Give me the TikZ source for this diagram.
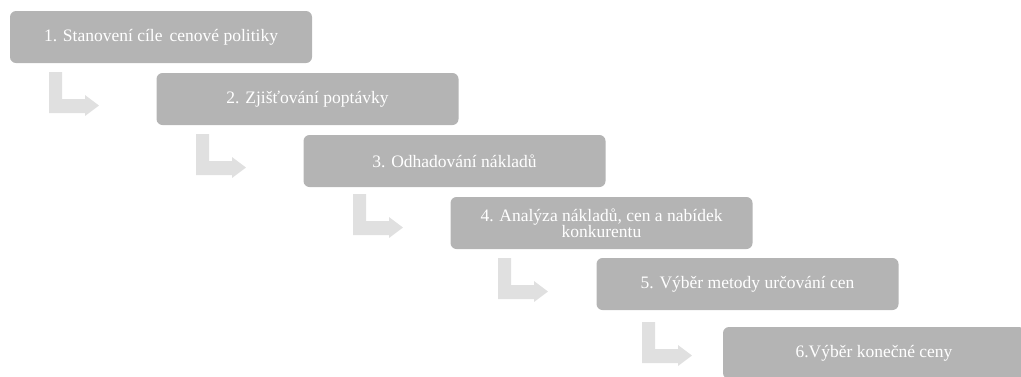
\documentclass[tikz,border=0pt]{standalone}
\usepackage{fontspec}
\setmainfont{Liberation Serif}
\definecolor{boxgray}{RGB}{180,180,180}
\definecolor{arrowgray}{RGB}{224,224,224}
\tikzset{
	stepbox/.style={fill=boxgray, rounded corners=6pt, minimum width=302pt, minimum height=52pt, inner sep=2pt, text=white, align=center},
	bentarrow/.style={fill=arrowgray, draw=none}
}
\begin{document}
\begin{tikzpicture}[x=1pt, y=-1pt, line join=round, font=\fontsize{17.5}{17.5}\selectfont]
			\useasboundingbox (0,0) rectangle (1021,376);
			\clip (0,0) rectangle (1021,376);
			% the steps
			\node[stepbox] (b1) at (161,37) {1. Stanovení cíle\hspace{0.4em}cenové politiky};
			\node[stepbox] (b2) at (307.5,99) {2. Zjišťování poptávky};
			\node[stepbox] (b3) at (454.5,161) {3. Odhadování nákladů};
			\node[stepbox] (b4) at (601.5,223) {4. Analýza nákladů, cen a nabídek\\[-1pt] konkurentu};
			\node[stepbox] (b5) at (747.5,284) {5. Výběr metody určování cen};
			\node[stepbox] (b6) at (874,353) {6.Výběr konečné ceny};
			% bent arrows between the steps
			\foreach \x/\y in {49/72, 196/134, 353/194, 498/258, 642/322}{
				\fill[bentarrow] (\x,\y) -- ++(13,0) -- ++(0,27) -- ++(23,0) -- ++(0,-4)
				-- ++(14,10.5) -- ++(-14,10.5) -- ++(0,-3) -- ++(-36,0) -- cycle;
			}
		\end{tikzpicture}
\end{document}
